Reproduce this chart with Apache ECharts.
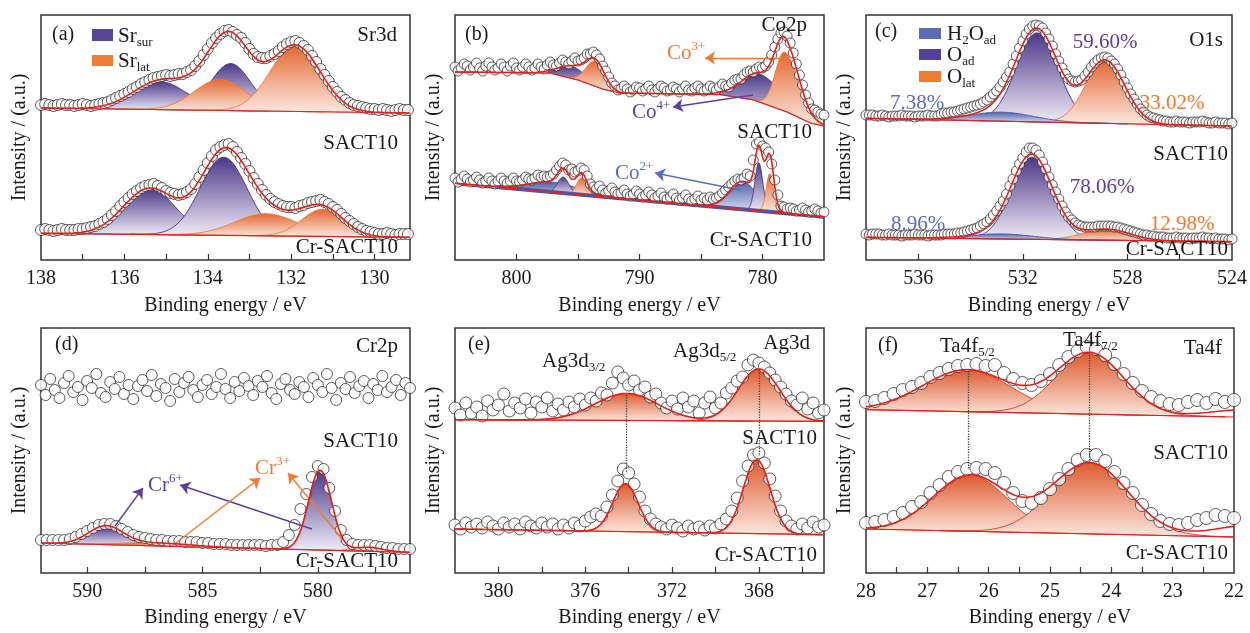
<!DOCTYPE html>
<html><head><meta charset="utf-8"><title>XPS spectra</title>
<script src="https://cdn.jsdelivr.net/npm/echarts@6.0.0/dist/echarts.min.js"></script>
<style>html,body{margin:0;padding:0;background:#fff;}#chart{width:1250px;height:633px;}</style>
</head><body><div id="chart"></div>
<script>
// ================= DATA (y in intensity units of each panel) =================
// (a) Sr3d  — measured points every 0.1 eV from 138 eV downwards
const aLabels = [130,132,134,136,138];
const aTicks = [130,131,132,133,134,135,136,137];
const aSactData = [155,156,155,154,155,156,155,155,154,155,156,155,154,155,156,157,158,160,162,164,166,168,171,173,176,178,180,182,183,184,185,184,185,186,186,188,190,194,199,205,211,217,222,226,229,230,228,225,222,217,211,206,203,202,202,204,206,209,213,216,218,219,217,214,210,204,198,191,185,179,173,168,163,160,157,155,154,153,152,151,151,150,151,150,149,150,151,150,150];
const aCrData = [30,31,30,29,30,31,30,30,30,31,31,32,33,34,36,38,41,45,49,54,58,62,66,69,72,74,75,76,74,72,69,67,66,65,66,68,71,76,83,90,97,104,110,113,115,116,113,108,102,96,89,82,76,70,65,61,58,56,54,53,53,52,54,55,57,58,59,60,58,56,53,50,46,42,39,36,33,31,29,28,27,26,26,27,26,25,26,26,26];
const aSactBase = [[138,152],[129.15,147]];
const aCrBase = [[138,26.7],[129.15,22.7]];
// peak: [centre eV, sigma (high-BE side), sigma (low-BE side), height, kind]
const aSactPeaks = [[135.15,0.65,0.65,28,'P'],[133.45,0.48,0.48,47,'P'],[133.7,0.62,0.62,31,'O'],[131.9,0.6,0.6,66,'O']];
const aCrPeaks = [[135.4,0.62,0.62,46,'P'],[133.62,0.56,0.56,78,'P'],[132.6,0.75,0.75,22,'O'],[131.25,0.5,0.5,27,'O']];

// (b) Co2p — points every 0.25 eV from 805 eV downwards
const bLabels = [780,790,800];
const bTicks = [780,785,790,795,800];
const bSactData = [193,189,192,196,194,190,193,197,192,189,194,197,193,190,192,196,193,189,194,197,192,190,193,196,193,190,192,196,193,191,195,198,195,194,197,200,198,196,199,202,199,200,202,206,206,208,205,201,194,189,183,177,174,170,171,174,171,168,170,173,172,169,171,174,170,168,171,174,172,169,170,173,171,168,171,174,170,169,172,174,171,169,171,174,172,170,173,176,174,173,177,180,181,181,185,188,189,188,191,193,192,194,198,205,213,221,227,228,224,217,207,196,185,175,165,157,151,150,148,146,145];
const bCrData = [82,78,81,84,81,78,80,83,80,77,79,82,79,76,79,82,79,77,79,82,79,78,80,83,81,80,82,85,83,84,83,84,86,90,94,97,95,90,91,88,89,92,90,84,76,73,71,74,70,67,69,72,68,66,67,70,66,64,66,69,66,63,65,68,65,62,64,67,63,61,63,66,62,60,62,65,61,59,61,64,60,62,60,63,61,62,64,67,70,73,76,79,81,80,82,86,84,100,116,118,114,112,108,96,80,65,54,53,51,52,51,49,50,52,50,48,49,51,49,47,48];
const bSactBase = [[805,188],[797.3,187],[795,180],[793,171],[791.6,167],[783.5,165.5],[780.7,160],[778,148],[776.1,137],[775,134]];
const bCrBase = [[805,76.7],[775,43.3]];
const bSactPeaks = [[795.5,1.1,1.1,12,'P'],[793.6,0.75,0.75,25,'O'],[780.2,1.5,1.8,28,'P'],[778.2,0.75,1.1,59,'O']];
const bCrPeaks = [[797,2,2,10,'B'],[796.2,0.45,0.45,16,'P'],[794.7,0.4,0.4,17,'O'],[781.6,1.1,1.1,28,'B'],[780.3,0.32,0.32,48,'P'],[779.4,0.3,0.3,38,'O'],[779.5,0.45,0.45,16,'-']];
const bArrows = [[778.33,202,784.67,202,'O'],[780.77,165,787.28,153,'P'],[781.83,70,788.74,87,'B']];

// (c) O1s — points every 0.125 eV from 538 eV downwards
const cLabels = [524,528,532,536];
const cTicks = [526,528,530,532,534,536];
const cSactData = [145,145,145,144,144,145,144,143,144,144,144,145,144,144,144,143,144,144,144,145,144,144,144,146,147,147,148,148,149,150,151,152,153,154,155,156,158,160,163,166,169,173,178,183,188,196,204,212,219,226,231,234,235,234,232,227,221,214,206,199,192,186,181,179,178,179,180,184,188,193,197,200,202,203,202,199,196,191,185,178,172,166,161,156,151,148,145,143,142,141,140,139,139,138,138,139,138,138,138,137,138,138,138,139,138,137,137,138,137,137,137,136,137];
const cCrData = [26,25,26,26,26,25,25,26,25,25,25,24,25,25,25,26,25,25,25,24,25,25,25,25,26,26,26,26,27,27,28,29,30,31,32,34,36,38,41,45,49,54,59,66,74,81,89,96,102,108,112,112,110,105,98,91,83,75,68,61,54,48,43,40,37,35,34,33,33,33,33,34,34,34,34,34,33,33,32,31,30,29,28,27,26,25,25,24,24,23,23,23,22,22,22,23,22,22,22,21,22,22,22,23,22,22,21,22,21,21,21,20,21];
const cSactBase = [[538,141.7],[524,134]];
const cCrBase = [[538,22.7],[524,18.3]];
const cSactPeaks = [[531.45,0.8,0.8,89,'P'],[528.85,0.75,0.75,63,'O'],[532.8,1.2,1.2,9,'B']];
const cCrPeaks = [[531.65,0.78,0.78,82,'P'],[528.8,0.9,0.9,11,'O'],[532.8,1.2,1.2,5,'B']];

// (d) Cr2p
const dLabels = [580,585,590];
const dTicks = [577.5,580,582.5,585,587.5,590];
const dSactData = [188,178,194,183,175,190,197,181,186,173,192,185,199,180,176,191,184,196,179,188,174,187,193,182,198,177,189,185,172,194,181,190,196,183,176,188,193,179,186,199,184,175,191,182,195,187,178,192,186,197,180,174,189,194,183,179,191,186,176,195,188,181,199,185,173,190,184,196,180,187,192,175,189,183,197,181,186,193,178,190,185];
const dCrData = [33,33,33,33,33,34,36,39,42,45,48,49,49,47,44,41,38,36,35,34,33,33,32,32,32,31,31,31,30,30,29,29,29,28,28,28,28,28,28,27,28,28,31,38,48,64,79,96,107,104,85,62,43,33,29,28,28,28,27,26,25,25,24,24,24];
const dCrBase = [[592,30],[576,20.7]];
const dCrPeaks = [[589.2,0.75,0.75,18,'P'],[587,1.5,1.5,3,'O'],[579.9,0.5,0.5,80,'P'],[577.8,0.6,0.6,4,'O']];
const dArrows = [[588.79,47,587.58,85,'P'],[580.25,44,585.97,88,'P'],[586.32,27,582.5,95,'O'],[578.9,33,581.29,100,'O']];

// (e) Ag3d
const eLabels = [368,372,376,380];
const eTicks = [366,368,370,372,374,376,378,380];
const eSactData = [165,158,170,160,166,157,172,163,168,179,162,170,165,174,160,171,166,175,162,169,163,171,166,174,168,175,172,180,178,190,201,195,188,192,183,186,176,179,170,165,172,164,175,166,172,160,170,176,165,170,180,185,192,196,208,213,210,206,200,193,186,179,172,168,175,164,170,160,163];
const eCrData = [48,44,50,46,49,45,51,47,44,50,46,49,44,51,47,45,50,46,49,44,48,45,50,47,52,56,59,57,66,78,92,104,100,89,76,62,54,49,46,44,48,45,42,47,44,46,43,47,45,49,54,62,75,92,107,118,120,110,94,77,62,52,47,44,49,45,51,46,48];
const eSactBase = [[382,153.3],[365,151.7]];
const eCrBase = [[382,44],[365,38.3]];
const eSactPeaks = [[374.1,1.45,1.45,27,'R'],[368,0.95,0.95,52,'R']];
const eCrPeaks = [[374.15,0.58,0.58,48,'R'],[368.1,0.62,0.62,74,'R']];
const eGuides = [[374.1,178,374.1,101],[368,203,368,117]];

// (f) Ta4f
const fLabels = [22,23,24,25,26,27,28];
const fTicks = [22.5,23,23.5,24,24.5,25,25.5,26,26.5,27,27.5];
const fSactData = [171,172,175,179,183,186,190,196,200,204,207,208,209,207,208,200,194,190,188,192,199,208,216,222,226,224,218,209,199,190,182,176,172,169,168,171,173,170,174,171,173];
const fCrData = [50,51,53,56,60,66,71,80,88,96,101,104,105,104,100,90,80,72,70,75,84,94,104,113,118,118,112,101,90,80,68,59,52,49,48,50,53,55,58,57,55];
const fSactBase = [[28,163.3],[22,156]];
const fCrBase = [[28,44],[22,36]];
const fSactPeaks = [[26.35,0.72,0.72,42,'R'],[24.35,0.55,0.55,61,'R'],[21.9,0.5,0.5,7,'-']];
const fCrPeaks = [[26.3,0.6,0.6,56,'R'],[24.35,0.62,0.62,71,'R'],[21.7,0.6,0.6,12,'-']];
const fGuides = [[26.34,202,26.34,103],[24.36,218,24.36,110]];

// ================= STYLE =================
const FONT = 'Liberation Serif';
const INK = '#1a1a1a';
const RED = '#e3211c';
const FILL = {
  P: ['#4a3788', '#f1eef8', '#4a3788'],
  O: ['#e4662f', '#fdeae3', '#ec7c3c'],
  B: ['#4b5da7', '#e9ecf7', '#4b5da7'],
  R: ['#dd5a2e', '#fde7df', '#e23a22']
};
const ARROW = {O:'#f07b2f', P:'#5a3f9e', B:'#5b6cc0'};
const TXT = {O:'#f07b2f', P:'#5a3f9e', B:'#5b6cc4'};

function baseAt(knots, e) {
  for (let i = 0; i < knots.length - 1; i++) {
    const a = knots[i], b = knots[i+1];
    if (e <= a[0] && e >= b[0]) return a[1] + (b[1]-a[1]) * (e - a[0]) / (b[0] - a[0]);
  }
  return e > knots[0][0] ? knots[0][1] : knots[knots.length-1][1];
}
function peakAt(p, e) {
  const s = e >= p[0] ? p[1] : p[2];
  const d = (e - p[0]) / s;
  return p[3] * Math.exp(-0.5 * d * d);
}

const panels = [
  {left:41, top:15, width:369, range:[129.15,138], ticks:aTicks, labels:aLabels, sym:11, gap:36,
   spectra:[{start:138, step:0.1, data:aSactData, base:aSactBase, peaks:aSactPeaks},
            {start:138, step:0.1, data:aCrData, base:aCrBase, peaks:aCrPeaks}]},
  {left:455, top:15, width:369, range:[775,805], ticks:bTicks, labels:bLabels, sym:10, gap:36,
   spectra:[{start:805, step:0.25, data:bSactData, base:bSactBase, peaks:bSactPeaks},
            {start:805, step:0.25, data:bCrData, base:bCrBase, peaks:bCrPeaks, thick:'#4a59a5'}],
   arrows:bArrows},
  {left:866, top:15, width:368, range:[524,538], ticks:cTicks, labels:cLabels, sym:10, gap:36,
   spectra:[{start:538, step:0.125, data:cSactData, base:cSactBase, peaks:cSactPeaks},
            {start:538, step:0.125, data:cCrData, base:cCrBase, peaks:cCrPeaks}]},
  {left:41, top:328, width:369, range:[576,592], ticks:dTicks, labels:dLabels, sym:11, gap:35,
   spectra:[{start:592, step:0.2, data:dSactData, base:null, peaks:null},
            {start:592, step:0.25, data:dCrData, base:dCrBase, peaks:dCrPeaks}],
   arrows:dArrows},
  {left:455, top:328, width:369, range:[365,382], ticks:eTicks, labels:eLabels, sym:12, gap:35,
   spectra:[{start:382, step:0.25, data:eSactData, base:eSactBase, peaks:eSactPeaks},
            {start:382, step:0.25, data:eCrData, base:eCrBase, peaks:eCrPeaks}],
   guides:eGuides},
  {left:866, top:328, width:368, range:[22,28], ticks:fTicks, labels:fLabels, sym:13, gap:35,
   spectra:[{start:28, step:0.15, data:fSactData, base:fSactBase, peaks:fSactPeaks},
            {start:28, step:0.15, data:fCrData, base:fCrBase, peaks:fCrPeaks}],
   guides:fGuides}
];

const option = {animation:false, backgroundColor:'#ffffff', grid:[], xAxis:[], yAxis:[], series:[], graphic:[]};
const axisFont = {fontSize:20, fontFamily:FONT, color:INK};

panels.forEach((pd, i) => {
  const lo = pd.range[0], hi = pd.range[1];
  option.grid.push({left:pd.left, top:pd.top, width:pd.width, height:245, show:true,
    borderColor:'#333333', borderWidth:1.5, backgroundColor:'transparent'});
  option.xAxis.push({gridIndex:i, type:'value', inverse:true, min:lo, max:hi,
    axisLine:{show:false}, splitLine:{show:false},
    axisTick:{show:true, inside:true, length:6, customValues:pd.ticks, lineStyle:{color:'#333', width:1.2}},
    axisLabel:{show:true, customValues:pd.labels, margin:9, ...axisFont},
    name:'Binding energy / eV', nameLocation:'middle', nameGap:pd.gap, nameTextStyle:axisFont});
  option.yAxis.push({gridIndex:i, type:'value', min:0, max:245,
    axisLine:{show:false}, axisTick:{show:false}, axisLabel:{show:false}, splitLine:{show:false},
    name:'Intensity / (a.u.)', nameLocation:'middle', nameGap:11, nameRotate:90, nameTextStyle:axisFont});

  pd.spectra.forEach((sp, j) => {
    if (sp.peaks) {
      const fills = sp.peaks.filter(p => p[4] !== '-');
      option.series.push({type:'custom', coordinateSystem:'cartesian2d', xAxisIndex:i, yAxisIndex:i, z:2, silent:true,
        data: fills.map(p => [p[0], baseAt(sp.base, p[0])]), encode:{x:0, y:1},
        renderItem: (params, api) => {
          const p = fills[params.dataIndex];
          const eHi = Math.min(hi, p[0] + 4 * p[1]);
          const eLo = Math.max(lo, p[0] - 4 * p[2]);
          const top = [], bot = [];
          const M = 200;
          for (let k = 0; k <= M; k++) {
            const e = eHi - (eHi - eLo) * k / M;
            const b = baseAt(sp.base, e);
            top.push(api.coord([e, b + peakAt(p, e)]));
            bot.push(api.coord([e, b]));
          }
          const c = FILL[p[4]];
          return {type:'polygon', shape:{points: top.concat(bot.reverse())},
            style:{fill: new echarts.graphic.LinearGradient(0,0,0,1,[{offset:0,color:c[0]},{offset:1,color:c[1]}]),
                   stroke:c[2], lineWidth:1}};
        }});
      if (sp.thick) {
        option.series.push({type:'line', xAxisIndex:i, yAxisIndex:i, z:2, silent:true, symbol:'none',
          data: sp.base, lineStyle:{color:sp.thick, width:4}});
      }
      const N = 600, env = [];
      for (let k = 0; k <= N; k++) {
        const e = hi - (hi - lo) * k / N;
        let y = baseAt(sp.base, e);
        sp.peaks.forEach(p => { y += peakAt(p, e); });
        env.push([e, y]);
      }
      option.series.push({type:'line', xAxisIndex:i, yAxisIndex:i, z:4, silent:true, symbol:'none',
        data: sp.base, lineStyle:{color:RED, width:1.2}});
      const envS = {type:'line', xAxisIndex:i, yAxisIndex:i, z:5, silent:true, symbol:'none',
        data: env, lineStyle:{color:RED, width:1.6}};
      if (j === 1 && (pd.arrows || pd.guides)) {
        const md = [];
        (pd.arrows || []).forEach(a => md.push([{coord:[a[0],a[1]], symbol:'none', lineStyle:{color:ARROW[a[4]], width:1.4, type:'solid'}}, {coord:[a[2],a[3]], symbol:'arrow'}]));
        (pd.guides || []).forEach(a => md.push([{coord:[a[0],a[1]], symbol:'none', lineStyle:{color:'#444', width:1.3, type:'dotted'}}, {coord:[a[2],a[3]], symbol:'none'}]));
        envS.markLine = {silent:true, animation:false, symbolSize:10, label:{show:false}, emphasis:{disabled:true}, data:md};
      }
      option.series.push(envS);
    }
    option.series.push({type:'scatter', xAxisIndex:i, yAxisIndex:i, z:3, silent:true, symbol:'circle', symbolSize:pd.sym,
      itemStyle:{color:'#ffffff', borderColor:'#1e1e1e', borderWidth:0.9},
      data: sp.data.map((v, k) => [sp.start - k * sp.step, v])});
  });
});

// ================= ANNOTATIONS =================
function rt(x, y, text, align, color, size) {
  size = size || 21; color = color || INK;
  const small = Math.round(size * 0.64);
  return {type:'text', x:x, y:y, z:100, silent:true,
    style:{text:text, align:align, verticalAlign:'middle', fill:color, fontFamily:FONT, fontSize:size,
      rich:{m:{fontFamily:FONT, fontSize:size, lineHeight:size+5, fill:color, verticalAlign:'middle'},
            s:{fontFamily:FONT, fontSize:small, lineHeight:small, fill:color, verticalAlign:'bottom'},
            p:{fontFamily:FONT, fontSize:small, lineHeight:small, fill:color, verticalAlign:'top'}}}};
}
function box(x, y, w, h, color) {
  return {type:'rect', z:100, silent:true, shape:{x:x, y:y, width:w, height:h}, style:{fill:color}};
}
option.graphic = [
  // (a)
  rt(52,35,'(a)','left',INK,20), box(92,29,21,12,'#574595'), box(92,55,21,11,'#ef7d32'),
  rt(118,36,'{m|Sr}{s|sur}','left'), rt(118,61,'{m|Sr}{s|lat}','left'),
  rt(397,35,'Sr3d','right'), rt(398,143,'SACT10','right'), rt(398,247,'Cr-SACT10','right'),
  // (b)
  rt(465,35,'(b)','left',INK,20), rt(807,25,'Co2p','right'),
  rt(667,53,'{m|Co}{p|3+}','left',TXT.O), rt(632,112,'{m|Co}{p|4+}','left',TXT.P),
  rt(812,132,'SACT10','right'), rt(615,173,'{m|Co}{p|2+}','left',TXT.B), rt(812,240,'Cr-SACT10','right'),
  // (c)
  rt(875,32,'(c)','left',INK,20), box(919,28,22,11,'#5b6cb4'), box(919,49,22,11,'#53409a'), box(919,71,22,11,'#ef7d31'),
  rt(947,34,'{m|H}{s|2}{m|O}{s|ad}','left'), rt(947,55,'{m|O}{s|ad}','left'), rt(947,77,'{m|O}{s|lat}','left'),
  rt(1223,40,'O1s','right'),
  rt(917,103,'7.38%','center',TXT.B), rt(1105,42,'59.60%','center',TXT.P), rt(1172,103,'33.02%','center',TXT.O),
  rt(1228,154,'SACT10','right'),
  rt(918,224,'8.96%','center',TXT.B), rt(1102,187,'78.06%','center',TXT.P), rt(1182,224,'12.98%','center',TXT.O),
  rt(1228,249,'Cr-SACT10','right'),
  // (d)
  rt(55,345,'(d)','left',INK,20), rt(398,346,'Cr2p','right'), rt(398,441,'SACT10','right'),
  rt(148,485,'{m|Cr}{p|6+}','left',TXT.P), rt(255,468,'{m|Cr}{p|3+}','left',TXT.O),
  rt(398,561,'Cr-SACT10','right'),
  // (e)
  rt(468,345,'(e)','left',INK,20), rt(542,361,'{m|Ag3d}{s|3/2}','left'), rt(673,351,'{m|Ag3d}{s|5/2}','left'),
  rt(810,343,'Ag3d','right'), rt(817,438,'SACT10','right'), rt(817,555,'Cr-SACT10','right'),
  // (f)
  rt(878,346,'(f)','left',INK,20), rt(940,346,'{m|Ta4f}{s|5/2}','left'), rt(1063,340,'{m|Ta4f}{s|7/2}','left'),
  rt(1222,348,'Ta4f','right'), rt(1228,453,'SACT10','right'), rt(1228,553,'Cr-SACT10','right')
];

const chart = echarts.init(document.getElementById('chart'), null, {renderer:'canvas'});
chart.setOption(option);
</script></body></html>
